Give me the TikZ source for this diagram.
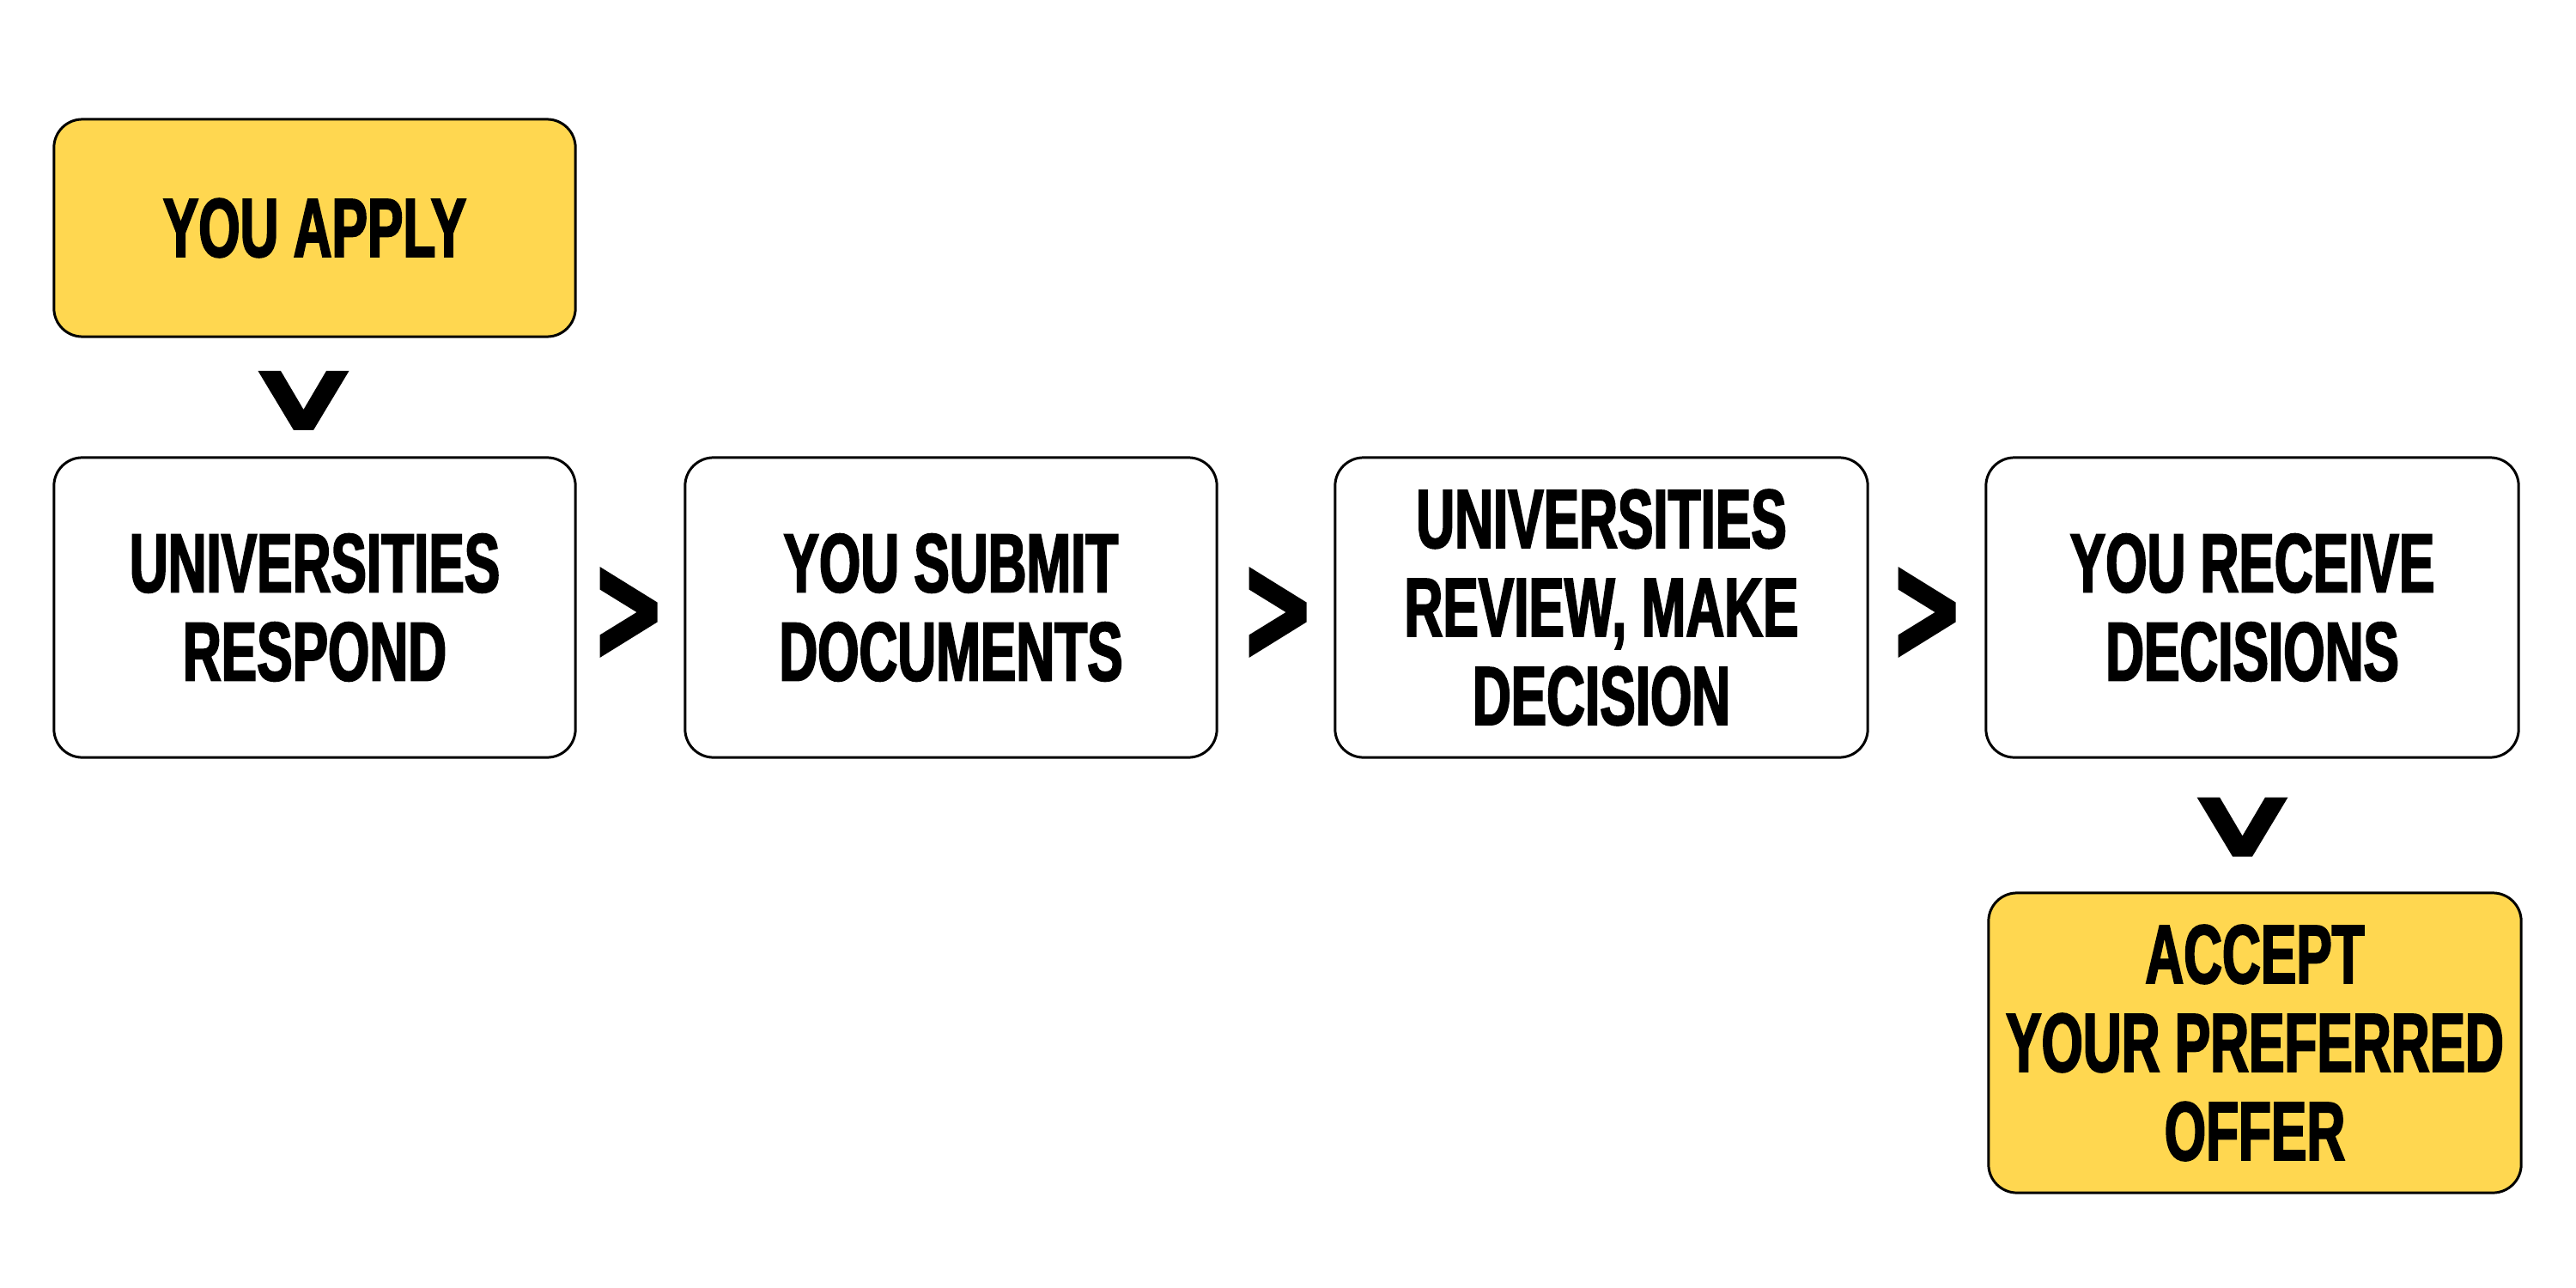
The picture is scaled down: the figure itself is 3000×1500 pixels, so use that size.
\documentclass[tikz,border=0pt]{standalone}
\usepackage{fontspec}
\newfontfamily\boxfont[FakeStretch=0.64,BoldFeatures={FakeStretch=0.64,FakeBold=2}]{Liberation Sans}
\usetikzlibrary{calc}
\definecolor{boxyellow}{RGB}{255,215,80}
\tikzset{
  stepbox/.style={draw=black, line width=0.85pt, rounded corners=0.33cm,
    fill=white, align=center, inner sep=0pt,
    font=\boxfont\bfseries\fontsize{27.6pt}{29.3pt}\selectfont,
    minimum width=6.2cm, minimum height=3.49cm},
  endbox/.style={stepbox, fill=boxyellow},
  chevR/.pic={\fill[black] (-33.5,-53) -- (33.5,-11.5) -- (33.5,11.5) -- (-33.5,53)
      -- (-33.5,26.5) -- (9.5,0) -- (-33.5,-26.5) -- cycle;},
  chevD/.pic={\fill[black] (-53,-34.5) -- (-11.5,34.5) -- (11.5,34.5) -- (53,-34.5)
      -- (26.5,-34.5) -- (0,10.5) -- (-26.5,-34.5) -- cycle;}
}
\begin{document}
\begin{tikzpicture}[x=0.01cm, y=-0.01cm]
  \useasboundingbox (0,0) rectangle (3000,1500);
  \node[endbox, minimum width=6.07cm, minimum height=2.53cm] (apply) at (366.5,265.5) {YOU APPLY};
  \node[stepbox, minimum width=6.07cm] (b1) at (366.5,707.5) {UNIVERSITIES\\RESPOND};
  \node[stepbox, minimum width=6.19cm] (b2) at (1107.5,707.5) {YOU SUBMIT\\DOCUMENTS};
  \node[stepbox] (b3) at (1865,707.5) {UNIVERSITIES\\REVIEW, MAKE\\DECISION};
  \node[stepbox] (b4) at (2623,707.5) {YOU RECEIVE\\DECISIONS};
  \node[endbox] (acc) at (2626,1214.5) {ACCEPT\\YOUR PREFERRED\\OFFER};
  \pic at ($(apply.south)!0.5!(b1.north)+(-13,4)$) {chevD};
  \pic at ($(b1.east)!0.5!(b2.west)+(-2,5.5)$) {chevR};
  \pic at ($(b2.east)!0.5!(b3.west)+(2,5.5)$) {chevR};
  \pic at ($(b3.east)!0.5!(b4.west)+(0,5.5)$) {chevR};
  \pic at ($(b4.south)!0.5!(acc.north)+(-13,2)$) {chevD};
\end{tikzpicture}
\end{document}
